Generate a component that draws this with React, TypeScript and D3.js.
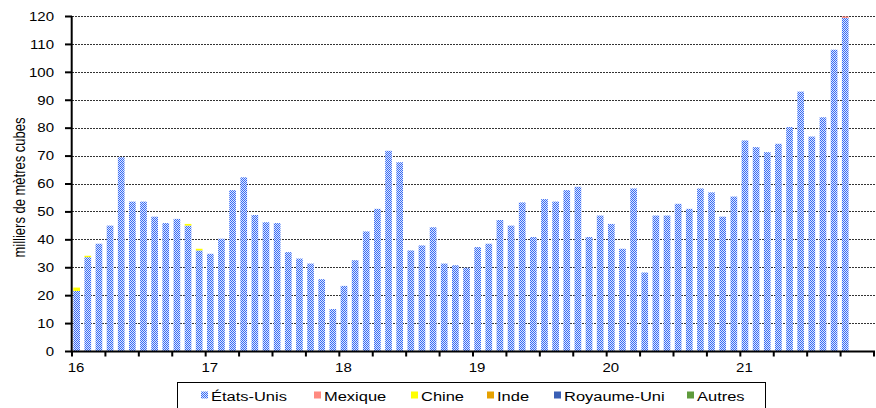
import React from "react";
import * as d3 from "d3";

// ---- Data (monthly, Jan 2016 – Oct 2021), thousands of cubic metres ----
const yearLabels = ["16", "17", "18", "19", "20", "21"];
const yTicks = [0, 10, 20, 30, 40, 50, 60, 70, 80, 90, 100, 110, 120];

const etatsUnis = [
  // 2016
  21.7, 33.8, 38.6, 45.1, 69.6, 53.7, 53.7, 48.3, 46.0, 47.5, 45.1, 36.2,
  // 2017
  35.0, 40.4, 57.8, 62.4, 48.9, 46.3, 46.0, 35.6, 33.3, 31.5, 25.9, 15.2,
  // 2018
  23.5, 32.7, 43.0, 51.1, 71.9, 67.8, 36.2, 38.0, 44.5, 31.5, 30.9, 30.0,
  // 2019
  37.4, 38.6, 47.1, 45.1, 53.4, 41.0, 54.6, 53.7, 57.8, 59.0, 41.0, 48.7,
  // 2020
  45.7, 36.8, 58.4, 28.3, 48.7, 48.7, 52.9, 51.1, 58.4, 57.0, 48.3, 55.5,
  // 2021
  75.6, 73.2, 71.4, 74.4, 80.4, 93.1, 77.0, 83.9, 108.1, 119.5,
];
const mexique = [
  0, 0, 0, 0, 0, 0, 0, 0, 0, 0, 0, 0,
  0, 0, 0, 0, 0, 0, 0, 0, 0, 0, 0, 0,
  0, 0, 0, 0, 0, 0, 0, 0, 0, 0, 0, 0,
  0, 0, 0, 0, 0, 0, 0, 0, 0, 0, 0, 0,
  0, 0, 0, 0, 0, 0, 0, 0, 0, 0, 0, 0,
  0, 0, 0, 0, 0, 0, 0, 0, 0, 0.5,
];
const chine = [
  1.2, 0.5, 0, 0, 0, 0, 0, 0, 0, 0, 0.6, 0.6,
  0, 0, 0, 0, 0, 0, 0, 0, 0, 0, 0, 0,
  0, 0, 0, 0, 0, 0, 0, 0, 0, 0, 0, 0,
  0, 0, 0, 0, 0, 0, 0, 0, 0, 0, 0, 0,
  0, 0, 0, 0, 0, 0, 0, 0, 0, 0, 0, 0,
  0, 0, 0, 0, 0, 0, 0, 0, 0, 0,
];
const inde = [
  0, 0, 0, 0, 0, 0, 0, 0, 0, 0, 0, 0,
  0, 0, 0, 0, 0, 0, 0, 0, 0, 0, 0, 0,
  0, 0, 0, 0, 0, 0, 0, 0, 0, 0, 0, 0,
  0, 0, 0, 0, 0, 0, 0, 0, 0, 0, 0, 0,
  0, 0, 0, 0, 0, 0, 0, 0, 0, 0, 0, 0,
  0, 0, 0, 0, 0, 0, 0, 0, 0, 0,
];
const royaumeUni = [
  0, 0, 0, 0, 0, 0, 0, 0, 0, 0, 0, 0,
  0, 0, 0, 0, 0, 0, 0, 0, 0, 0, 0, 0,
  0, 0, 0, 0, 0, 0, 0, 0, 0, 0, 0, 0,
  0, 0, 0, 0, 0, 0, 0, 0, 0, 0, 0, 0,
  0, 0, 0, 0, 0, 0, 0, 0, 0, 0, 0, 0,
  0, 0, 0, 0, 0, 0, 0, 0, 0, 0,
];
const autres = [
  0, 0, 0, 0, 0, 0, 0, 0, 0, 0, 0, 0,
  0, 0, 0, 0, 0, 0, 0, 0, 0, 0, 0, 0,
  0, 0, 0, 0, 0, 0, 0, 0, 0, 0, 0, 0,
  0, 0, 0, 0, 0, 0, 0, 0, 0, 0, 0, 0,
  0, 0, 0, 0, 0, 0, 0, 0, 0, 0, 0, 0,
  0, 0, 0, 0, 0, 0, 0, 0, 0, 0,
];

const seriesNames = ["États-Unis", "Mexique", "Chine", "Inde", "Royaume-Uni", "Autres"];
const seriesValues = [etatsUnis, mexique, chine, inde, royaumeUni, autres];
const seriesColors = ["url(#usPattern)", "#ff8a80", "#ffff00", "#e6a100", "#3a5fb5", "#5f9b3c"];

// ---- Layout ----
const W = 876;
const H = 408;
const PLOT_LEFT = 72;
const PLOT_RIGHT = 874;
const PLOT_TOP = 16.5;
const PLOT_BOTTOM = 351.5;
const N_MONTHS = 72;
const FONT = "'Liberation Sans', Arial, sans-serif";
const legendSwatchX = [201, 314, 411, 487, 554, 687];

export default function App() {
  const x = d3.scaleLinear().domain([0, N_MONTHS]).range([PLOT_LEFT, PLOT_RIGHT]);
  const y = d3.scaleLinear().domain([0, 120]).range([PLOT_BOTTOM, PLOT_TOP]);
  const step = x(1) - x(0);
  const barW = step * 0.6;

  const table = etatsUnis.map((_, i) => {
    const row: Record<string, number> = { i };
    seriesNames.forEach((name, k) => (row[name] = seriesValues[k][i]));
    return row;
  });
  const layers = d3.stack<Record<string, number>>().keys(seriesNames)(table);

  const quarterTicks = d3.range(0, N_MONTHS + 1, 3);

  return (
    <svg
      width={W}
      height={H}
      style={{ position: "absolute", left: 0, top: 0, background: "#fff" }}
      fontFamily={FONT}
    >
      <defs>
        <pattern id="usPattern" width={2} height={2} patternUnits="userSpaceOnUse">
          <rect x={0} y={0} width={2} height={2} fill="#dce6ff" shapeRendering="crispEdges" />
          <rect x={0} y={0} width={1} height={1} fill="#3a6cf4" shapeRendering="crispEdges" />
          <rect x={1} y={1} width={1} height={1} fill="#3a6cf4" shapeRendering="crispEdges" />
        </pattern>
      </defs>

      {/* gridlines */}
      {yTicks
        .filter((t) => t > 0)
        .map((t) => (
          <line
            key={"g" + t}
            x1={PLOT_LEFT}
            x2={W}
            y1={Math.floor(y(t)) + 0.5}
            y2={Math.floor(y(t)) + 0.5}
            stroke="#333"
            strokeWidth={1}
            strokeDasharray="2 1"
          />
        ))}

      {/* bars */}
      {layers.map((layer, k) => (
        <g key={layer.key} fill={seriesColors[k]}>
          {layer.map((d, i) =>
            d[1] - d[0] > 0 ? (
              <rect
                key={i}
                x={x(i) + 1.3}
                width={barW}
                y={y(d[1])}
                height={y(d[0]) - y(d[1])}
              />
            ) : null
          )}
        </g>
      ))}

      {/* y axis */}
      <line x1={71.7} x2={71.7} y1={PLOT_TOP - 0.5} y2={PLOT_BOTTOM + 1} stroke="#000" strokeWidth={2} />
      {yTicks.map((t) => (
        <g key={"yt" + t}>
          <line x1={65} x2={72} y1={y(t)} y2={y(t)} stroke="#000" strokeWidth={2} />
          <text
            transform={`translate(54, ${y(t) + 4.3}) scale(1.25, 1)`}
            textAnchor="end"
            fontSize={12}
            fill="#000"
          >
            {t}
          </text>
        </g>
      ))}
      <text
        transform={`translate(24.5, 187.5) scale(1.25, 1) rotate(-90)`}
        textAnchor="middle"
        fontSize={13}
        fill="#000"
      >
        milliers de mètres cubes
      </text>

      {/* x axis */}
      <line x1={PLOT_LEFT - 1} x2={PLOT_RIGHT + 1} y1={PLOT_BOTTOM} y2={PLOT_BOTTOM} stroke="#000" strokeWidth={2} />
      {quarterTicks.map((m) => (
        <line key={"xt" + m} x1={x(m)} x2={x(m)} y1={PLOT_BOTTOM} y2={PLOT_BOTTOM + 5} stroke="#000" strokeWidth={2} />
      ))}
      {yearLabels.map((lab, k) => (
        <text
          key={"xl" + lab}
          transform={`translate(${x(k * 12) + step / 2 - 1.5}, 371.5) scale(1.2, 1)`}
          textAnchor="middle"
          fontSize={12.5}
          fill="#000"
        >
          {lab}
        </text>
      ))}

      {/* legend */}
      <rect x={177.5} y={382.5} width={588} height={40} fill="#fff" stroke="#000" strokeWidth={1} />
      {seriesNames.map((name, k) => (
        <g key={"lg" + name}>
          <rect x={legendSwatchX[k]} y={391.5} width={7} height={7} fill={seriesColors[k]} />
          <text
            transform={`translate(${legendSwatchX[k] + 10}, 400.5) scale(1.22, 1)`}
            fontSize={13.5}
            fill="#000"
          >
            {name}
          </text>
        </g>
      ))}
    </svg>
  );
}
